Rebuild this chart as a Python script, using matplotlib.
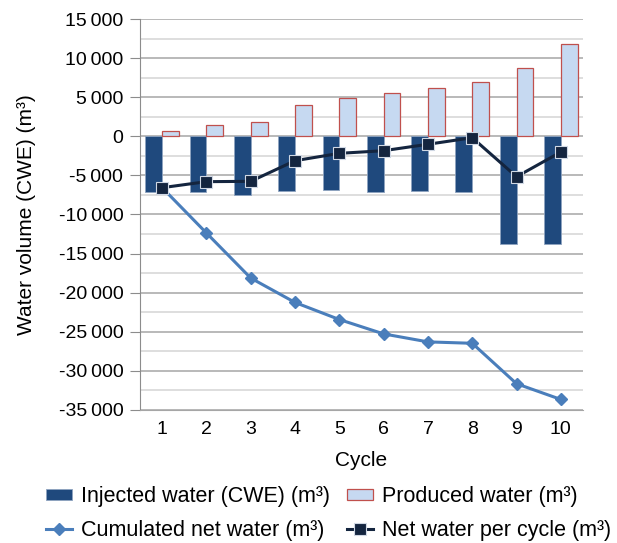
import numpy as np
import matplotlib.pyplot as plt
from matplotlib.ticker import FuncFormatter, MultipleLocator

plt.rcParams['font.family'] = ['Liberation Sans', 'DejaVu Sans']

cycles = [1, 2, 3, 4, 5, 6, 7, 8, 9, 10]
injected = [-7100, -7150, -7550, -7000, -6870, -7080, -7000, -7150, -13800, -13800]
produced = [680, 1450, 1800, 4000, 4900, 5550, 6150, 6980, 8700, 11760]
net_cycle = [-6570, -5800, -5760, -3120, -2180, -1840, -1020, -180, -5170, -2010]
cumulated = [-6570, -12370, -18130, -21250, -23430, -25270, -26290, -26470, -31640, -33650]

fig = plt.figure(figsize=(6.17, 5.43), dpi=100)
ax = fig.add_axes([140 / 617, 1 - 410 / 543, 443 / 617, 391 / 543])

x = np.array(cycles)
bw = 0.38
b_inj = ax.bar(x, injected, width=-bw, align='edge', color='#1f497d', edgecolor='#8ea3c0',
               linewidth=0.6, zorder=2)
b_prod = ax.bar(x, produced, width=bw, align='edge', color='#c6d9f1', edgecolor='#c0504d',
                linewidth=0.9, zorder=2)
l_cum, = ax.plot(x, cumulated, color='#4a7ebb', lw=2.2, marker='D', ms=6, mfc='#4a7ebb',
                 mec='#4a7ebb', zorder=3)
l_net, = ax.plot(x, net_cycle, color='#14253f', lw=2.2, marker='s', ms=8, mfc='#14253f',
                 mec='#d0d8e4', mew=0.8, zorder=4)

ax.set_xlim(0.5, 10.5)
ax.set_ylim(-35000, 15000)
ax.set_xticks(cycles)
ax.yaxis.set_major_locator(MultipleLocator(5000))
ax.yaxis.set_minor_locator(MultipleLocator(2500))
ax.yaxis.set_major_formatter(FuncFormatter(
    lambda v, p: ('-' if v < 0 else '') + f"{abs(int(v)):,}".replace(',', '\u2009')))
ax.grid(axis='y', which='major', color='#a6a6a6', lw=1.1, zorder=0)
ax.grid(axis='y', which='minor', color='#d4d4d4', lw=1.1, zorder=0)
ax.set_axisbelow(True)

for s in ['top', 'right']:
    ax.spines[s].set_visible(False)
ax.spines['left'].set_color('#8c8c8c')
ax.spines['bottom'].set_color('#a6a6a6')
ax.tick_params(axis='y', which='major', length=7, color='#8c8c8c', labelsize=14, pad=5)
ax.tick_params(axis='y', which='minor', length=0)
ax.tick_params(axis='x', length=0, labelsize=14, pad=8)

ax.set_ylabel('Water volume (CWE) (m³)', fontsize=15)
ax.yaxis.set_label_coords(-104 / 443, 0.5)
ax.set_xlabel('Cycle', fontsize=15, labelpad=9)

# row-major order: matplotlib fills columns first
handles = [b_inj, l_cum, b_prod, l_net]
labels = ['Injected water (CWE) (m³)', 'Cumulated net water (m³)',
          'Produced water (m³)', 'Net water per cycle (m³)']
fig.legend(handles, labels, loc='lower center', bbox_to_anchor=(0.533, -0.024), ncol=2,
           frameon=False, fontsize=15.5, columnspacing=0.8, handlelength=1.2,
           handleheight=0.45, handletextpad=0.42, labelspacing=0.6, borderpad=0.2)

fig.savefig('out.png', dpi=100)
